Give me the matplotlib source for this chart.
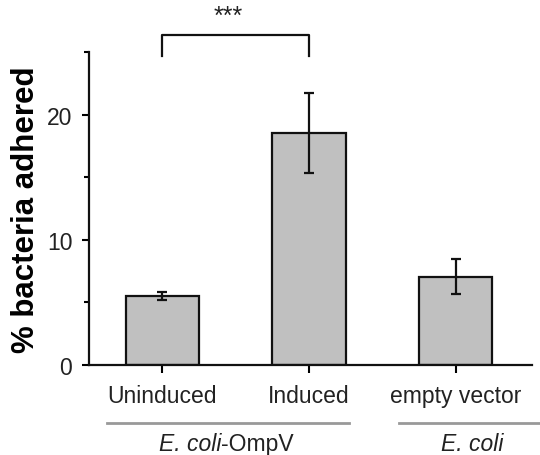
import numpy as np
import matplotlib.pyplot as plt
from matplotlib.ticker import MultipleLocator

plt.rcParams['font.family'] = ['Liberation Sans', 'DejaVu Sans']

# data
categories = ["Uninduced", "Induced", "empty vector"]
adhered = [5.5, 18.5, 7.05]
errors = [0.3, 3.2, 1.4]
groups = ["E. coli-OmpV", "E. coli"]

fig = plt.figure(figsize=(5.4, 4.56), dpi=100)
ax = fig.add_axes([0.1648, 0.1974, 0.8204, 0.6864])

x = np.arange(len(categories))
ax.bar(x, adhered, width=0.5, color="#c0c0c0", edgecolor="#111111", linewidth=1.6, zorder=2)
ax.errorbar(x, adhered, yerr=errors, fmt="none", ecolor="#111111",
            elinewidth=1.6, capsize=3.5, capthick=1.6, zorder=3)

ax.set_xlim(-0.5, 2.52)
ax.set_ylim(0, 25)
ax.yaxis.set_major_locator(MultipleLocator(10))
ax.yaxis.set_minor_locator(MultipleLocator(5))
ax.set_xticks(x)
ax.set_xticklabels(categories, fontsize=16.5)
ax.tick_params(axis="y", which="major", length=5, width=1.5, pad=7, labelsize=16.5, labelcolor="#222222")
ax.tick_params(axis="y", which="minor", length=3.5, width=1.5)
ax.tick_params(axis="x", length=6, width=1.5, pad=8, labelcolor="#222222")

for s in ["top", "right"]:
    ax.spines[s].set_visible(False)
for s in ["left", "bottom"]:
    ax.spines[s].set_linewidth(1.6)
    ax.spines[s].set_color("#111111")

ax.set_ylabel("% bacteria adhered", fontsize=22.5, fontweight="bold", labelpad=4)

# significance bracket
ax.plot([0, 0, 1, 1], [24.7, 26.36, 26.36, 24.7], color="#111111", lw=1.6, clip_on=False)
ax.text(0.45, 27.9, "***", ha="center", va="center", fontsize=18, color="#222222")

# group lines and labels below the axis
trans = ax.get_xaxis_transform()
ax.plot([-0.38, 1.27], [-0.185, -0.185], color="#999999", lw=2, transform=trans, clip_on=False)
ax.plot([1.61, 2.6], [-0.185, -0.185], color="#999999", lw=2, transform=trans, clip_on=False)
ax.text(0.4, -0.252, "E. coli", ha="right", va="center", fontsize=16.5, style="italic",
        transform=trans, color="#222222")
ax.text(0.4, -0.252, "-OmpV", ha="left", va="center", fontsize=16.5,
        transform=trans, color="#222222")
ax.text(2.11, -0.252, "E. coli", ha="center", va="center", fontsize=16.5, style="italic",
        transform=trans, color="#222222")

fig.savefig("out.png", dpi=100)
